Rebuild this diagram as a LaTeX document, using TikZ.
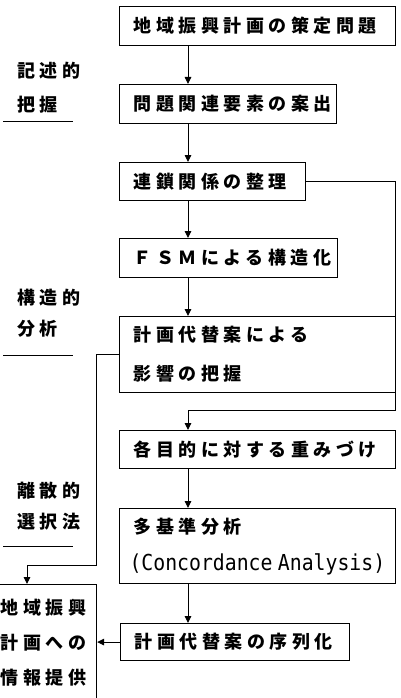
\documentclass[tikz,border=0pt]{standalone}
\usepackage{fontspec}
\setmainfont{Noto Sans CJK JP}[LetterSpace=25]
\newfontfamily\monof{DejaVu Sans Mono}[LetterSpace=0]
\usetikzlibrary{arrows.meta}
\tikzset{
  box/.style={draw, line width=1.1pt, anchor=north west, inner xsep=14pt, inner ysep=0pt, align=left, font=\fontsize{18}{20}\selectfont\bfseries},
  lbl/.style={anchor=west, inner sep=0pt, font=\fontsize{18}{20}\selectfont\bfseries},
  conn/.style={line width=0.9pt},
  arr/.style={conn, -{Triangle[width=6.5pt,length=7pt]}},
  uline/.style={line width=1pt}
}
\newcommand{\mono}[1]{\scalebox{0.9}[1]{\mdseries\monof\fontsize{22}{24}\selectfont #1}}
\begin{document}
\begin{tikzpicture}[x=1pt,y=-1pt]
\useasboundingbox (0,0) rectangle (401,698);
\clip (0,0) rectangle (401,698);
\node[box, text width=248pt, minimum height=39pt] (b1) at (119,6) {地域振興計画の策定問題};
\node[box, text width=189pt, minimum height=39pt] (b2) at (119,84) {問題関連要素の案出};
\node[box, text width=158pt, minimum height=38pt] (b3) at (119,162) {連鎖関係の整理};
\node[box, text width=190pt, minimum height=39pt] (b4) at (119,238) {ＦＳＭによる構造化};
\node[box, text width=248pt, minimum height=76pt] (b5) at (119,316) {計画代替案による\\[19pt]影響の把握};
\node[box, text width=248pt, minimum height=38pt] (b6) at (119,430) {各目的に対する重みづけ};
\node[box, text width=256pt, minimum height=75pt, inner xsep=10pt] (b8) at (119,508) {\hspace{4pt}多基準分析\\[17pt]\mono{(Concordance Analysis)}};
\node[box, text width=201pt, minimum height=37pt] (b9) at (120,623) {計画代替案の序列化};
\node[box, text width=86pt, minimum height=116pt, inner xsep=10pt] (b7) at (-10,584) {地域振興\\[15pt]計画への\\[15pt]情報提供};
\node[lbl] (l1) at (17,71) {記述的};
\node[lbl] (l2) at (17,105) {把握};
\node[lbl] (l3) at (17,298) {構造的};
\node[lbl] (l4) at (17,329) {分析};
\node[lbl] (l5) at (17,491) {離散的};
\node[lbl] (l6) at (17,522) {選択法};
\draw[uline] (3,122) -- (73,122);
\draw[uline] (3,355) -- (73,355);
\draw[uline] (3,546) -- (73,546);
\coordinate (ax) at (188,0);
\coordinate (rx) at (395,410);
\coordinate (lx) at (96,565);
\coordinate (lx2) at (27,565);
\draw[arr] (b1.south -| ax) -- (b2.north -| ax);
\draw[arr] (b2.south -| ax) -- (b3.north -| ax);
\draw[arr] (b3.south -| ax) -- (b4.north -| ax);
\draw[arr] (b4.south -| ax) -- (b5.north -| ax);
\draw[arr] (b6.south -| ax) -- (b8.north -| ax);
\draw[arr] (b8.south -| ax) -- (b9.north -| ax);
\draw[arr] (b3.east) -- (b3.east -| rx) -- (rx) -- (rx -| ax) -- (b6.north -| ax);
\draw[arr] (b5.west) -- (b5.west -| lx) -- (lx) -- (lx2) -- (b7.north -| lx2);
\draw[arr] (b9.west) -- (b9.west -| b7.east);
\end{tikzpicture}
\end{document}
